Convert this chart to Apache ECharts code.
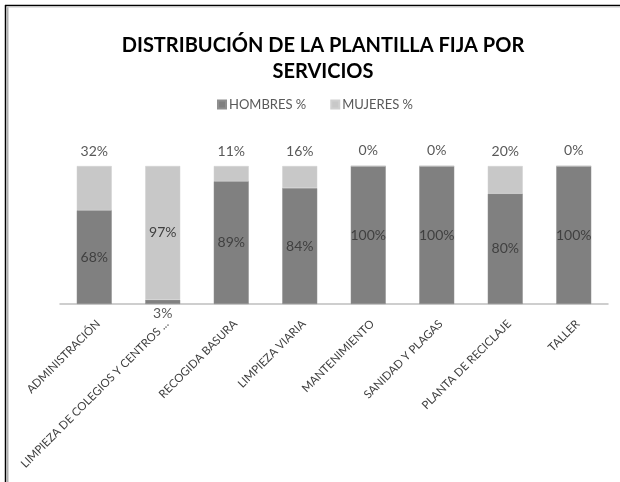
<!DOCTYPE html>
<html><head><meta charset="utf-8">
<script src="https://cdn.jsdelivr.net/npm/echarts@6/dist/echarts.min.js"></script>
<style>html,body{margin:0;padding:0;background:#fff}#c{width:620px;height:482px}</style>
</head><body><div id="c"></div>
<script>
const categories = ["ADMINISTRACIÓN","LIMPIEZA DE COLEGIOS Y CENTROS ...","RECOGIDA BASURA","LIMPIEZA VIARIA","MANTENIMIENTO","SANIDAD Y PLAGAS","PLANTA DE RECICLAJE","TALLER"];
const hombres = [68,3,89,84,100,100,80,100];
const mujeres = [32,97,11,16,0,0,20,0];
const seriesNames = ["HOMBRES %","MUJERES %"];
const titleText = "DISTRIBUCIÓN DE LA PLANTILLA FIJA POR\nSERVICIOS";

const FONT = 'Lato';
const labelStyle = {show:true, formatter:'{c}%', fontFamily:FONT, fontSize:14, color:'#404040'};
const chart = echarts.init(document.getElementById('c'), null, {renderer:'canvas'});
chart.setOption({
  animation:false,
  backgroundColor:'#fff',
  title:{text:titleText, left:318, textAlign:'center', top:28,
    textStyle:{fontFamily:FONT, fontWeight:'bold', fontSize:20, color:'#000', lineHeight:26}},
  legend:{data:seriesNames, top:93, left:212, itemWidth:8, itemHeight:8, itemGap:24, icon:'rect',
    textStyle:{fontFamily:FONT, fontSize:13, color:'#595959', padding:[0,0,0,-2]}},
  grid:[
    {left:60, right:12, top:166, bottom:178, containLabel:false},
    {left:64, right:8, top:166, bottom:178, containLabel:false}
  ],
  xAxis:[
    {type:'category', data:categories, gridIndex:0,
     axisLine:{lineStyle:{color:'#bfbfbf', width:1.5}}, axisTick:{show:false}, axisLabel:{show:false}},
    {type:'category', data:categories, gridIndex:1,
     axisLine:{show:false}, axisTick:{show:false},
     axisLabel:{rotate:45, interval:0, fontFamily:FONT, fontSize:11.4, color:'#404040', margin:18}}
  ],
  yAxis:[
    {type:'value', min:0, max:100, show:false, gridIndex:0},
    {type:'value', min:0, max:100, show:false, gridIndex:1}
  ],
  series:[
    {name:seriesNames[0], type:'bar', stack:'a', barWidth:35,
     itemStyle:{color:'#808080', borderColor:'#8f8f8f', borderWidth:0.5},
     label:Object.assign({}, labelStyle, {position:'inside'}),
     data:hombres.map((v,i)=> i===1 ? {value:v, label:{position:'bottom', distance:2, color:'#595959'}} : v)},
    {name:seriesNames[1], type:'bar', stack:'a', barWidth:35,
     itemStyle:{color:'#c8c8c8', borderColor:'#d0d0d0', borderWidth:0.5},
     label:Object.assign({}, labelStyle, {position:'top', distance:8, color:'#595959'}),
     data:mujeres.map((v,i)=> i===1 ? {value:v, label:{position:'inside', color:'#404040'}} : v)}
  ],
  graphic:[
    {type:'line', shape:{x1:5.5,y1:5,x2:5.5,y2:482}, style:{stroke:'#000', lineWidth:1.5}},
    {type:'line', shape:{x1:5,y1:5.5,x2:620,y2:5.5}, style:{stroke:'#000', lineWidth:1.5}},
    {type:'line', shape:{x1:7.5,y1:7,x2:7.5,y2:482}, style:{stroke:'#b0b0b0', lineWidth:2}},
    {type:'line', shape:{x1:7,y1:7,x2:620,y2:7}, style:{stroke:'#c8c8c8', lineWidth:1}}
  ]
});
</script></body></html>
